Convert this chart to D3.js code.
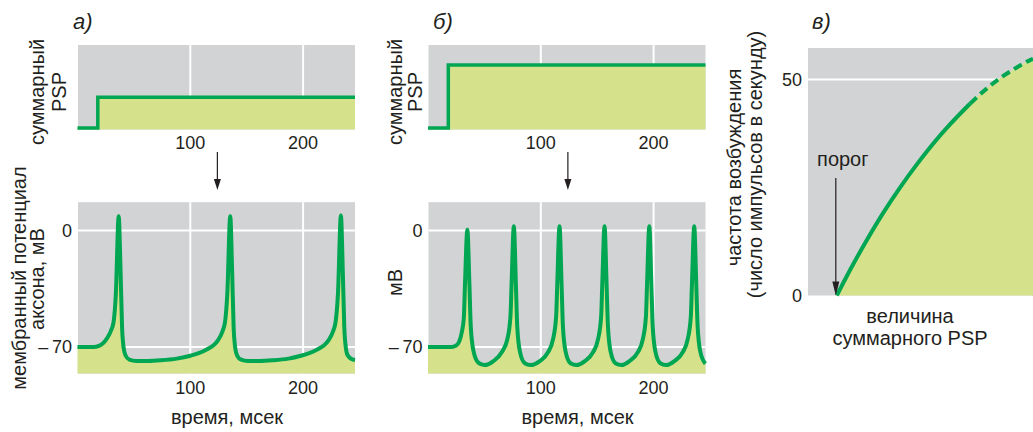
<!DOCTYPE html>
<html>
<head>
<meta charset="utf-8">
<script src="https://cdn.jsdelivr.net/npm/d3@7"></script>
<style>
  body { margin: 0; background: #fff; }
  text { font-family: "Liberation Sans", Arial, Helvetica, sans-serif; fill: #231f20; }
</style>
</head>
<body>
<svg id="fig" width="1033" height="432"></svg>
<script>
// ---- summed PSP (step stimulus), arbitrary units 0..100 ----
const pspTime   = [0, 18, 246];
const pspWeak   = [0, 37, 37];
const pspStrong = [0, 76, 76];

// ---- axis ticks ----
const timeTicks = [100, 200];
const mvTicks = [0, -70];
const mvTickLabels = ["0", "–\u200970"];
const rateTicks = [0, 50];
const rateTickLabels = ["0", "50"];

// ---- membrane potential, weak PSP (ms, mV) ----
const weakTime = [0, 14, 19, 23, 26.5, 29.5, 32, 34, 36.5, 38.2, 39.5, 40.8, 42.5, 46, 52, 62, 74, 88, 100, 108,
  114.5, 120, 124.5, 128, 130.8, 132.8, 135.4, 137.1, 138.4, 139.7, 141.4, 145, 151, 161, 173, 187, 198, 206,
  212.5, 218, 222.5, 226, 228.8, 230.9, 233.5, 235.2, 236.5, 237.8, 239.5, 243, 246];
const weakMv = [-70, -70, -69.3, -67.5, -64.5, -60.5, -55, -38, 8.5, -25, -58, -70, -75, -77.6, -78.4, -78.4, -78, -77, -75.3, -73.6,
  -71.5, -69.3, -66, -61.5, -55, -38, 8.5, -25, -58, -70, -75, -77.6, -78.4, -78.4, -78, -77, -75.3, -73.6,
  -71.5, -69.3, -66, -61.5, -55, -38, 9, -25, -58, -70, -75, -77.2, -77.8];

// ---- membrane potential, strong PSP (ms, mV) ----
const strongTime = [0, 21, 24.5, 27.5, 30, 31.8, 32.8, 34.9, 36.7, 37.9, 40.2, 44.6, 50,
  58, 65.5, 70.3, 73.1, 74.1, 76.1, 77.9, 79.1, 81.4, 85.8, 91,
  99, 106.3, 110.8, 113.6, 114.6, 116.6, 118.4, 119.6, 121.9, 126.3, 131.5,
  139, 146.2, 150.7, 153.5, 154.5, 156.5, 158.3, 159.5, 161.8, 166.2, 171.5,
  178.6, 185.9, 190.4, 193.2, 194.2, 196.2, 198, 199.2, 201.5, 205.9, 211,
  218.4, 225.7, 230.2, 233, 234, 236, 237.8, 239, 241.3, 245.7, 246];
const strongMv = [-70, -70, -69.3, -67, -61, -52, -32, 0.5, -32, -57.5, -72, -79.4, -80.9,
  -78.5, -73, -65.5, -51.6, -32, 2.5, -32, -57.5, -72.5, -79.8, -80.9,
  -78.5, -73.3, -65.5, -51.6, -32, 2.5, -32, -57.5, -72.5, -79.8, -80.9,
  -78.5, -73.3, -65.5, -51.6, -32, 2.5, -32, -57.5, -72.5, -79.8, -80.9,
  -78.5, -73.3, -65.5, -51.6, -32, 2.5, -32, -57.5, -72.5, -79.8, -80.9,
  -78.5, -73.3, -65.5, -51.6, -32, 2.5, -32, -57.5, -72.5, -79.8, -80];

// ---- firing rate vs. summed PSP magnitude ----
const pspMagnitude = [12.8, 18.7, 26.1, 33.5, 40.9, 48.3, 55.7, 63.1, 72, 79.4, 85.3, 92.8, 98.7, 100];
const firingRate   = [0, 5.9, 12.8, 19.2, 25.0, 30.3, 35.2, 39.6, 44.4, 47.9, 50.3, 52.8, 54.5, 54.8];
const measuredLimit = 72; // solid up to here, extrapolated (dashed) beyond

// ---- styling ----
const GRAY = "#d1d3d4", FILL = "#d5e28b", GREEN = "#00a651", GRID = "#ffffff", INK = "#231f20";

const svg = d3.select("#fig");

function vtext(x, y, str, size) {
  svg.append("text")
    .attr("transform", `translate(${x},${y}) rotate(-90)`)
    .attr("text-anchor", "middle")
    .style("font-size", size + "px")
    .text(str);
}
function htext(x, y, str, size, anchor) {
  return svg.append("text")
    .attr("x", x).attr("y", y)
    .attr("text-anchor", anchor || "middle")
    .style("font-size", size + "px")
    .text(str);
}
function downArrow(x, y1, y2, headW, headL, width) {
  svg.append("line").attr("x1", x).attr("x2", x).attr("y1", y1).attr("y2", y2 - headL + 1)
    .attr("stroke", INK).attr("stroke-width", width);
  svg.append("path")
    .attr("d", `M${x - headW / 2},${y2 - headL}L${x + headW / 2},${y2 - headL}L${x},${y2}Z`)
    .attr("fill", INK);
}

// Draws one column: step PSP on top, membrane potential below
function drawColumn(left, letter, pspLevels, times, mvs, cfg) {
  const x = d3.scaleLinear().domain([0, 246]).range([left, left + 277.5]);
  const yTop = d3.scaleLinear().domain([0, 100]).range([128, 45]);
  const yBot = d3.scaleLinear().domain([-86, 17]).range([373.6, 202.2]);
  const x0 = x(0) + 0.5, x1 = x(246);

  // --- top: summed PSP ---
  const gT = svg.append("g");
  gT.append("rect").attr("x", x0).attr("y", yTop(100)).attr("width", x1 - x0)
    .attr("height", yTop(0) + 1.5 - yTop(100)).attr("fill", GRAY);
  gT.selectAll("line.grid").data(timeTicks).join("line")
    .attr("x1", d => x(d)).attr("x2", d => x(d))
    .attr("y1", yTop(100)).attr("y2", yTop(0) + 1.5)
    .attr("stroke", GRID).attr("stroke-width", 2);
  const stepPts = pspTime.map((t, i) => [t, pspLevels[i]]);
  gT.append("path").datum(stepPts)
    .attr("d", d3.area().x(d => x(d[0])).y0(yTop(0) + 1.5).y1(d => yTop(d[1])).curve(d3.curveStepAfter))
    .attr("fill", FILL);
  gT.append("path").datum(stepPts)
    .attr("d", d3.line().x(d => x(d[0])).y(d => yTop(d[1])).curve(d3.curveStepAfter))
    .attr("fill", "none").attr("stroke", GREEN).attr("stroke-width", 3.5);
  timeTicks.forEach(t => htext(x(t), 149, t, 18));

  // --- bottom: membrane potential ---
  const gB = svg.append("g");
  gB.append("rect").attr("x", x0).attr("y", yBot(17)).attr("width", x1 - x0)
    .attr("height", yBot(-86) - yBot(17)).attr("fill", GRAY);
  gB.selectAll("line.vgrid").data(timeTicks).join("line")
    .attr("x1", d => x(d)).attr("x2", d => x(d))
    .attr("y1", yBot(17)).attr("y2", yBot(-86))
    .attr("stroke", GRID).attr("stroke-width", 2);
  gB.selectAll("line.hgrid").data(mvTicks).join("line")
    .attr("x1", x0).attr("x2", x1)
    .attr("y1", d => yBot(d)).attr("y2", d => yBot(d))
    .attr("stroke", GRID).attr("stroke-width", 2);
  const pts = times.map((t, i) => [t, mvs[i]]);
  gB.append("path").datum(pts)
    .attr("d", d3.area().x(d => x(d[0])).y0(yBot(-86)).y1(d => yBot(d[1])).curve(d3.curveMonotoneX))
    .attr("fill", FILL);
  gB.append("path").datum(pts)
    .attr("d", d3.line().x(d => x(d[0])).y(d => yBot(d[1])).curve(d3.curveMonotoneX))
    .attr("fill", "none").attr("stroke", GREEN).attr("stroke-width", 4)
    .attr("stroke-linejoin", "miter");
  timeTicks.forEach(t => htext(x(t), 394, t, 18));
  mvTicks.forEach((v, i) => htext(x0 - 6, yBot(v), mvTickLabels[i], 18, "end").attr("dy", "0.35em"));
  htext((x0 + x1) / 2 + 10.5, 424, "время, мсек", 20);

  // arrow from stimulus to response
  downArrow(x(124), 152, 190, 7, 11, 1.2);

  // panel letter
  htext(cfg.letterX, 29, letter, 22, "start").style("font-style", "italic");

  // axis titles
  vtext(cfg.topL1, 92, "суммарный", 20);
  vtext(cfg.topL2, 92, "PSP", 20);
  cfg.botLines.forEach(b => vtext(b.x, b.y, b.t, 20));
}

drawColumn(77.5, "а)", pspWeak, weakTime, weakMv, {
  letterX: 73, topL1: 43.5, topL2: 65.5,
  botLines: [{ x: 25.5, y: 278, t: "мембранный потенциал" }, { x: 44, y: 279, t: "аксона, мВ" }]
});
drawColumn(428, "б)", pspStrong, strongTime, strongMv, {
  letterX: 433, topL1: 401.5, topL2: 421.5,
  botLines: [{ x: 401.5, y: 282.5, t: "мВ" }]
});

// ---- panel в: firing rate vs. summed PSP ----
{
  const x = d3.scaleLinear().domain([0, 100]).range([808, 1033]);
  const y = d3.scaleLinear().domain([0, 57.3]).range([295.5, 48]);
  const g = svg.append("g");
  g.append("rect").attr("x", x(0)).attr("y", y(57.3)).attr("width", x(100) - x(0))
    .attr("height", y(0) - y(57.3)).attr("fill", GRAY);
  g.append("line").attr("x1", x(0)).attr("x2", x(100)).attr("y1", y(50)).attr("y2", y(50))
    .attr("stroke", GRID).attr("stroke-width", 2);

  const pts = pspMagnitude.map((m, i) => [m, firingRate[i]]);
  g.append("path").datum(pts)
    .attr("d", d3.area().x(d => x(d[0])).y0(y(0)).y1(d => y(d[1])).curve(d3.curveMonotoneX))
    .attr("fill", FILL);
  const solid = pts.filter(d => d[0] <= measuredLimit);
  const dashed = pts.filter(d => d[0] >= measuredLimit);
  const line = d3.line().x(d => x(d[0])).y(d => y(d[1])).curve(d3.curveMonotoneX);
  g.append("path").datum(solid).attr("d", line)
    .attr("fill", "none").attr("stroke", GREEN).attr("stroke-width", 4);
  g.append("path").datum(dashed).attr("d", line)
    .attr("fill", "none").attr("stroke", GREEN).attr("stroke-width", 4)
    .attr("stroke-dasharray", "9,5");

  rateTicks.forEach((v, i) => htext(x(0) - 6, y(v), rateTickLabels[i], 18, "end").attr("dy", "0.35em"));

  // threshold marker
  htext(x(pspMagnitude[0]) + 6, 166, "порог", 20);
  downArrow(x(pspMagnitude[0]) - 1, 178, y(0), 7, 14, 1.2);

  htext(910, 323, "величина", 20);
  htext(910, 345, "суммарного PSP", 20);
  vtext(740.5, 167.5, "частота возбуждения", 20);
  vtext(762, 164.5, "(число импульсов в секунду)", 20);
  htext(812, 29, "в)", 22, "start").style("font-style", "italic");
}
</script>
</body>
</html>
